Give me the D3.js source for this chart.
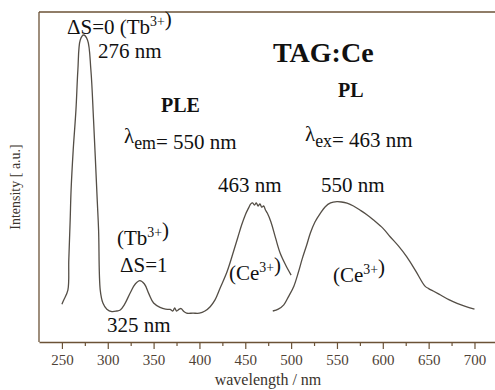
<!DOCTYPE html>
<html>
<head>
<meta charset="utf-8">
<script src="https://cdn.jsdelivr.net/npm/d3@7/dist/d3.min.js"></script>
<style>
  html, body { margin: 0; padding: 0; background: #fff; }
  svg text { font-family: "Liberation Serif", "Times New Roman", serif; }
</style>
</head>
<body>
<svg id="chart" width="495" height="390"></svg>
<script>
// Excitation spectrum (PLE, λem = 550 nm): wavelength (nm) and intensity (a.u.)
const pleWavelength = [250, 252, 256.5, 257.5, 259, 260, 262.3, 265.3, 267.4, 270, 273.6, 277.9, 281.6, 284.5, 288.5, 290, 291.8, 294.7, 299, 304.5, 310, 313.6, 318, 325, 330, 335, 340, 345, 350, 357, 363, 368, 371, 373, 375, 378, 380, 383, 386, 393, 400, 406, 411.7, 417, 422.6, 430, 437, 442, 446, 450, 453.5, 456, 458, 460, 462, 464, 466, 468, 470, 472, 474, 478, 483, 488, 494, 500];
const pleIntensity = [12.3, 13.7, 16.9, 26.7, 39.7, 49.5, 62.5, 75.6, 88.6, 98.4, 100, 98.4, 88.6, 72.3, 46.3, 36.5, 16.9, 12.7, 10.7, 9.9, 10.1, 10.4, 12.1, 16.3, 18.9, 20.0, 18.9, 15.6, 12.7, 11.3, 10.7, 10.6, 10.1, 11.1, 10.1, 10.7, 10.9, 9.9, 9.4, 9.4, 9.4, 10.1, 11.5, 13.7, 17.6, 22.8, 29.3, 34.2, 38.1, 41.4, 43.6, 45.0, 45.3, 44.6, 45.3, 44.3, 45.0, 43.9, 44.3, 43.0, 42.0, 39.1, 33.9, 29.0, 25.1, 21.8];

// Emission spectrum (PL, λex = 463 nm)
const plWavelength = [480, 486, 492, 497, 503, 508, 512, 517, 521, 526, 532, 537, 543, 550, 555, 561, 568, 575, 583, 590, 600, 608, 617, 626, 636, 646, 650, 655, 663, 672, 681, 690, 700];
const plIntensity = [10.1, 10.7, 12.1, 14.7, 18.2, 22.8, 27.0, 31.6, 35.5, 39.1, 42.0, 44.0, 45.3, 45.7, 45.6, 45.2, 44.3, 43.0, 41.4, 39.7, 37.1, 34.3, 31.3, 27.8, 23.1, 18.2, 17.4, 16.6, 15.3, 13.8, 12.6, 11.6, 10.7];

// Axis ticks (nm)
const majorTicks = [250, 300, 350, 400, 450, 500, 550, 600, 650, 700];
const minorTicks = [275, 325, 375, 425, 475, 525, 575, 625, 675, 725];

const serif = "'Liberation Serif', 'Times New Roman', serif";
const svg = d3.select("#chart");
const axisColor = "#6b5236";
const lineColor = "#544e46";

const x = d3.scaleLinear().domain([225, 725]).range([39, 497.4]);
const y = d3.scaleLinear().domain([0, 100]).range([342, 35]);

const frameTop = 12;

// Frame: left and top borders
svg.append("line")
  .attr("x1", x(225)).attr("x2", x(225))
  .attr("y1", frameTop).attr("y2", y(0))
  .attr("stroke", axisColor).attr("stroke-width", 1.3);
svg.append("line")
  .attr("x1", x(225)).attr("x2", 495)
  .attr("y1", frameTop).attr("y2", frameTop)
  .attr("stroke", axisColor).attr("stroke-width", 1.3);

// Bottom axis with major labelled ticks
const xAxis = svg.append("g")
  .attr("transform", `translate(0,${y(0)})`)
  .call(d3.axisBottom(x).tickValues(majorTicks).tickSize(7).tickSizeOuter(0).tickPadding(5));
xAxis.attr("font-family", serif);
xAxis.select(".domain").attr("stroke", axisColor).attr("stroke-width", 1.3);
xAxis.selectAll(".tick line").attr("stroke", axisColor).attr("stroke-width", 1.2);
xAxis.selectAll(".tick text")
  .attr("fill", "#4e4236")
  .style("font-family", serif)
  .style("font-size", "15px");

// Minor ticks
const xMinor = svg.append("g")
  .attr("transform", `translate(0,${y(0)})`)
  .call(d3.axisBottom(x).tickValues(minorTicks).tickSize(4).tickSizeOuter(0).tickFormat(""));
xMinor.select(".domain").remove();
xMinor.selectAll(".tick line").attr("stroke", axisColor).attr("stroke-width", 1.2);

// Axis titles
svg.append("text")
  .attr("x", 268).attr("y", 385)
  .attr("text-anchor", "middle")
  .attr("fill", "#3a332c")
  .style("font-family", serif)
  .style("font-size", "16px")
  .text("wavelength / nm");

svg.append("text")
  .attr("transform", "translate(20,187) rotate(-90)")
  .attr("text-anchor", "middle")
  .attr("fill", "#3a332c")
  .style("font-family", serif)
  .style("font-size", "14px")
  .text("Intensity [ a.u.]");

// Spectra
const line = d3.line()
  .x(d => x(d[0]))
  .y(d => y(d[1]))
  .curve(d3.curveCatmullRom.alpha(0.5));

svg.append("path")
  .datum(d3.zip(pleWavelength, pleIntensity))
  .attr("d", line)
  .attr("fill", "none")
  .attr("stroke", lineColor)
  .attr("stroke-width", 1.3);

svg.append("path")
  .datum(d3.zip(plWavelength, plIntensity))
  .attr("d", line)
  .attr("fill", "none")
  .attr("stroke", lineColor)
  .attr("stroke-width", 1.3);

// Annotations
function label(xp, yp, parts, opts = {}) {
  const size = opts.size || 21;
  const t = svg.append("text")
    .attr("x", xp).attr("y", yp)
    .attr("fill", "#111")
    .attr("text-anchor", opts.anchor || "start")
    .style("font-family", serif)
    .style("font-size", size + "px")
    .style("font-weight", opts.bold ? "bold" : "normal");
  parts.forEach(p => {
    if (typeof p === "string") {
      t.append("tspan").text(p);
    } else if (p.sup) {
      t.append("tspan")
        .attr("dy", -size * 0.4)
        .style("font-size", size * 0.66 + "px")
        .text(p.text);
      t.append("tspan").attr("dy", size * 0.4).text("");
    } else {
      t.append("tspan")
        .attr("dy", size * 0.3)
        .style("font-size", size * 0.85 + "px")
        .text(p.text);
      t.append("tspan").attr("dy", -size * 0.3).text("");
    }
  });
  return t;
}

label(67, 34, ["ΔS=0 (Tb", { sup: true, text: "3+" }, ")"]);
label(98, 58, ["276 nm"]);
label(273, 62, ["TAG:Ce"], { size: 28, bold: true });
label(161, 112, ["PLE"], { size: 20, bold: true });
label(124, 143, ["λ", { sub: true, text: "em" }, "= 550 nm"]);
label(338, 97, ["PL"], { size: 20, bold: true });
label(305, 141, ["λ", { sub: true, text: "ex" }, "= 463 nm"]);
label(218, 192, ["463 nm"]);
label(321, 192, ["550 nm"]);
label(117, 245, ["(Tb", { sup: true, text: "3+" }, ")"]);
label(120, 272, ["ΔS=1"]);
label(107, 332, ["325 nm"]);
label(229, 280, ["(Ce", { sup: true, text: "3+" }, ")"]);
label(333, 282, ["(Ce", { sup: true, text: "3+" }, ")"]);
</script>
</body>
</html>
